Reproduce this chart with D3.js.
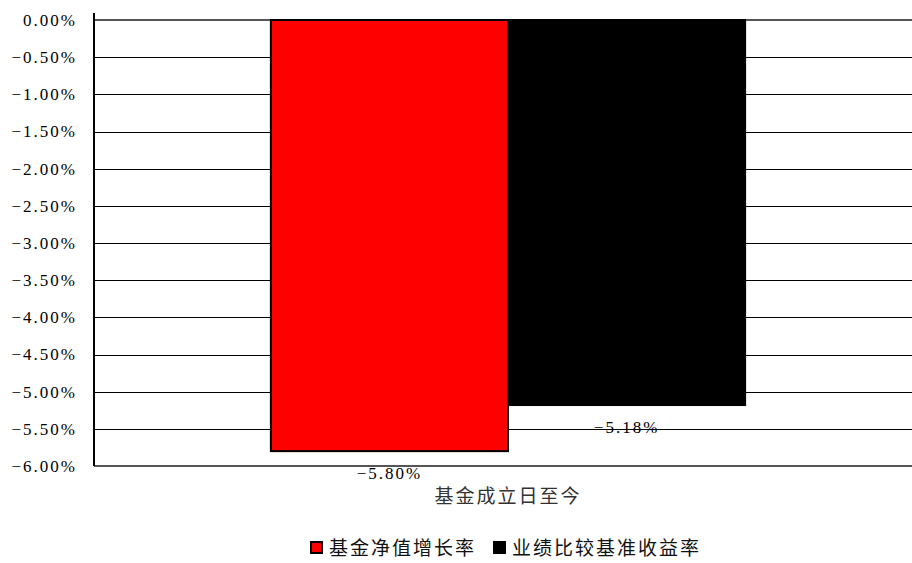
<!DOCTYPE html>
<html><head><meta charset="utf-8">
<script src="https://cdn.jsdelivr.net/npm/d3@7"></script>
<style>
body{margin:0;background:#fff;}
</style></head>
<body><svg id="c" width="912" height="563"></svg>
<script>
const categories = ["基金成立日至今"];
const seriesNames = ["基金净值增长率", "业绩比较基准收益率"];
const seriesColors = ["#ff0000", "#000000"];
const seriesValues = [[-5.80], [-5.18]];
const yTicks = [0, -0.5, -1, -1.5, -2, -2.5, -3, -3.5, -4, -4.5, -5, -5.5, -6];

(function(){
const FONT = "Liberation Serif, Noto Sans CJK SC, serif";
const svg = d3.select("#c");
const pL = 94, pR = 922, pT = 20, pB = 466;
const y = d3.scaleLinear().domain([-6, 0]).range([pB, pT]);
const x0 = d3.scaleBand().domain(categories).range([pL, pR]).paddingInner(0).paddingOuter(0.373);
const x1 = d3.scaleBand().domain(seriesNames).range([0, x0.bandwidth()]);

// gridlines
svg.append("g").selectAll("line").data(yTicks.filter(t => t !== 0 && t !== -6)).join("line")
  .attr("x1", pL).attr("x2", 912).attr("y1", d => Math.round(y(d)) + 0.5).attr("y2", d => Math.round(y(d)) + 0.5)
  .attr("stroke", "#000").attr("stroke-width", 1);
[0, -6].forEach(v => {
  svg.append("line").attr("x1", pL).attr("x2", 912).attr("y1", y(v)).attr("y2", y(v))
    .attr("stroke", "#555").attr("stroke-width", 2);
});

// y axis
const yAxis = d3.axisLeft(y).tickValues(yTicks).tickSize(0).tickPadding(17)
  .tickFormat(d => (d === 0 ? "0.00" : "−" + Math.abs(d).toFixed(2)) + "%");
const ga = svg.append("g").attr("transform", `translate(${pL},0)`).call(yAxis);
ga.attr("font-family", null).attr("font-size", null);
ga.select(".domain").remove();
ga.selectAll("text").attr("fill", "#000").attr("font-size", 17)
  .style("font-family", FONT).style("letter-spacing", "2px");
svg.append("line").attr("x1", pL).attr("x2", pL).attr("y1", 13).attr("y2", pB)
  .attr("stroke", "#000").attr("stroke-width", 2);

// bars
const bars = [];
categories.forEach((c, ci) => seriesNames.forEach((s, si) => bars.push({c, s, si, v: seriesValues[si][ci]})));
svg.append("g").selectAll("rect").data(bars).join("rect")
  .attr("x", d => x0(d.c) + x1(d.s))
  .attr("width", x1.bandwidth())
  .attr("y", d => y(0))
  .attr("height", d => y(d.v) - y(0))
  .attr("fill", d => seriesColors[d.si])
  .attr("stroke", "#000").attr("stroke-width", 2);

// value labels
svg.append("g").selectAll("text").data(bars).join("text")
  .attr("x", d => x0(d.c) + x1(d.s) + x1.bandwidth() / 2)
  .attr("y", d => y(d.v) + 28)
  .attr("text-anchor", "middle").attr("font-size", 17)
  .style("font-family", FONT).style("letter-spacing", "2px")
  .text(d => "−" + Math.abs(d.v).toFixed(2) + "%");

// category label
svg.append("g").selectAll("text").data(categories).join("text")
  .attr("x", d => x0(d) + x0.bandwidth() / 2).attr("y", 503)
  .attr("text-anchor", "middle").attr("font-size", 19).attr("fill", "#333")
  .style("font-family", FONT).style("letter-spacing", "2px")
  .text(d => d);

// legend
const lg = svg.append("g");
const legendX = [310, 493];
seriesNames.forEach((s, i) => {
  lg.append("rect").attr("x", legendX[i] + 1).attr("y", 542).attr("width", 11).attr("height", 11)
    .attr("fill", seriesColors[i]).attr("stroke", "#000").attr("stroke-width", 2);
  lg.append("text").attr("x", legendX[i] + 19).attr("y", 555).attr("font-size", 19)
    .style("font-family", FONT).style("letter-spacing", "2px").attr("fill", "#111").text(s);
});
})();
</script></body></html>
